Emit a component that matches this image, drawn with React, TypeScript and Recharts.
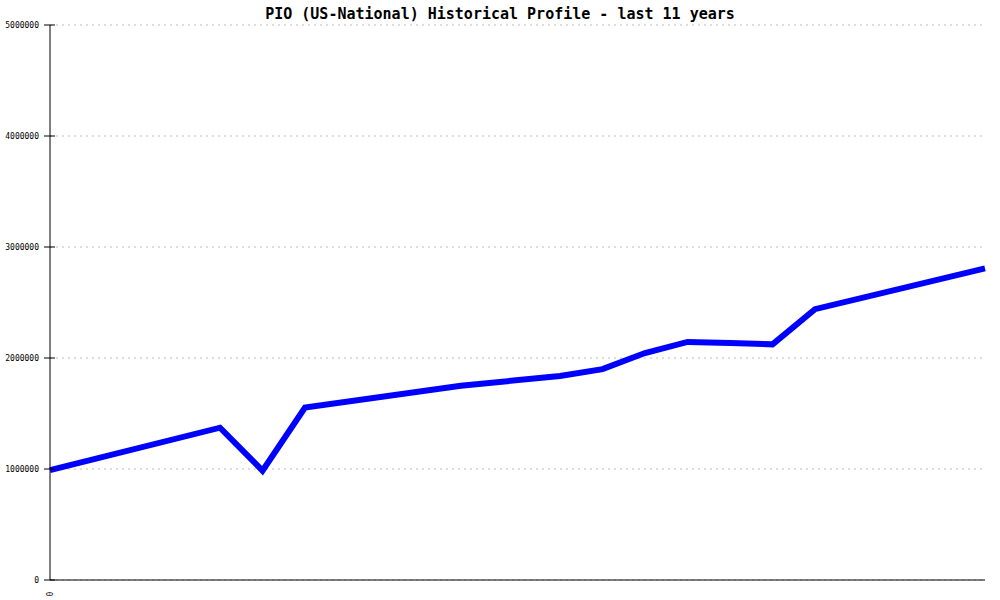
import { LineChart, Line, XAxis, YAxis, CartesianGrid } from 'recharts';

// months since start of the 11-year window
const months = [0, 24, 30, 36, 58, 72, 78, 84, 90, 96, 102, 108, 132];
const values = [990000, 1372000, 985000, 1553000, 1750000, 1838000, 1900000, 2045000, 2145000, 2135000, 2123000, 2440000, 2808000];
const yTicks = [0, 1000000, 2000000, 3000000, 4000000, 5000000];
const xTicks = [0];

const data = months.map((m, i) => ({ m, v: values[i] }));

const mono = '"DejaVu Sans Mono", "Liberation Mono", monospace';

function YTick(props: any) {
  const { x, y, payload } = props;
  return (
    <g>
      <line x1={44} x2={55} y1={y} y2={y} stroke="#000" strokeWidth={1} />
      <text x={x} y={y} dy={3} textAnchor="end" fontSize={8} fontFamily={mono} fill="#000">
        {payload.value}
      </text>
    </g>
  );
}

function XTick(props: any) {
  const { x, y, payload } = props;
  return (
    <text
      x={x}
      y={y}
      transform={`rotate(-90 ${x} ${y})`}
      dx={-6}
      dy={3}
      textAnchor="middle"
      fontSize={8}
      fontFamily={mono}
      fill="#000"
    >
      {payload.value}
    </text>
  );
}

export default function App() {
  return (
    <div style={{ position: 'absolute', left: 0, top: 0, width: 1000, height: 600, background: '#fff' }}>
      <div
        style={{
          position: 'absolute',
          top: 5,
          left: 0,
          width: 1000,
          textAlign: 'center',
          fontFamily: mono,
          fontWeight: 'bold',
          fontSize: 15,
          color: '#000',
        }}
      >
        PIO (US-National) Historical Profile - last 11 years
      </div>
      <LineChart width={1000} height={600} data={data} margin={{ top: 25, right: 15, bottom: 0, left: 0 }}>
        <CartesianGrid yAxisId="left" vertical={false} stroke="#bbbbbb" strokeDasharray="2 4" />
        <XAxis
          dataKey="m"
          type="number"
          domain={[0, 132]}
          ticks={xTicks}
          tick={<XTick />}
          tickLine={false}
          height={20}
          axisLine={{ stroke: '#000' }}
        />
        <YAxis
          yAxisId="left"
          domain={[0, 5000000]}
          ticks={yTicks}
          width={50}
          tickSize={6}
          tickMargin={5}
          tickLine={false}
          tick={<YTick />}
          axisLine={{ stroke: '#000' }}
          interval={0}
        />
        <YAxis yAxisId="right" orientation="right" width={0} tick={false} tickLine={false} axisLine={{ stroke: '#000' }} />
        <Line
          yAxisId="left"
          type="linear"
          dataKey="v"
          stroke="#0000ff"
          strokeWidth={6}
          dot={false}
          isAnimationActive={false}
        />
      </LineChart>
    </div>
  );
}
